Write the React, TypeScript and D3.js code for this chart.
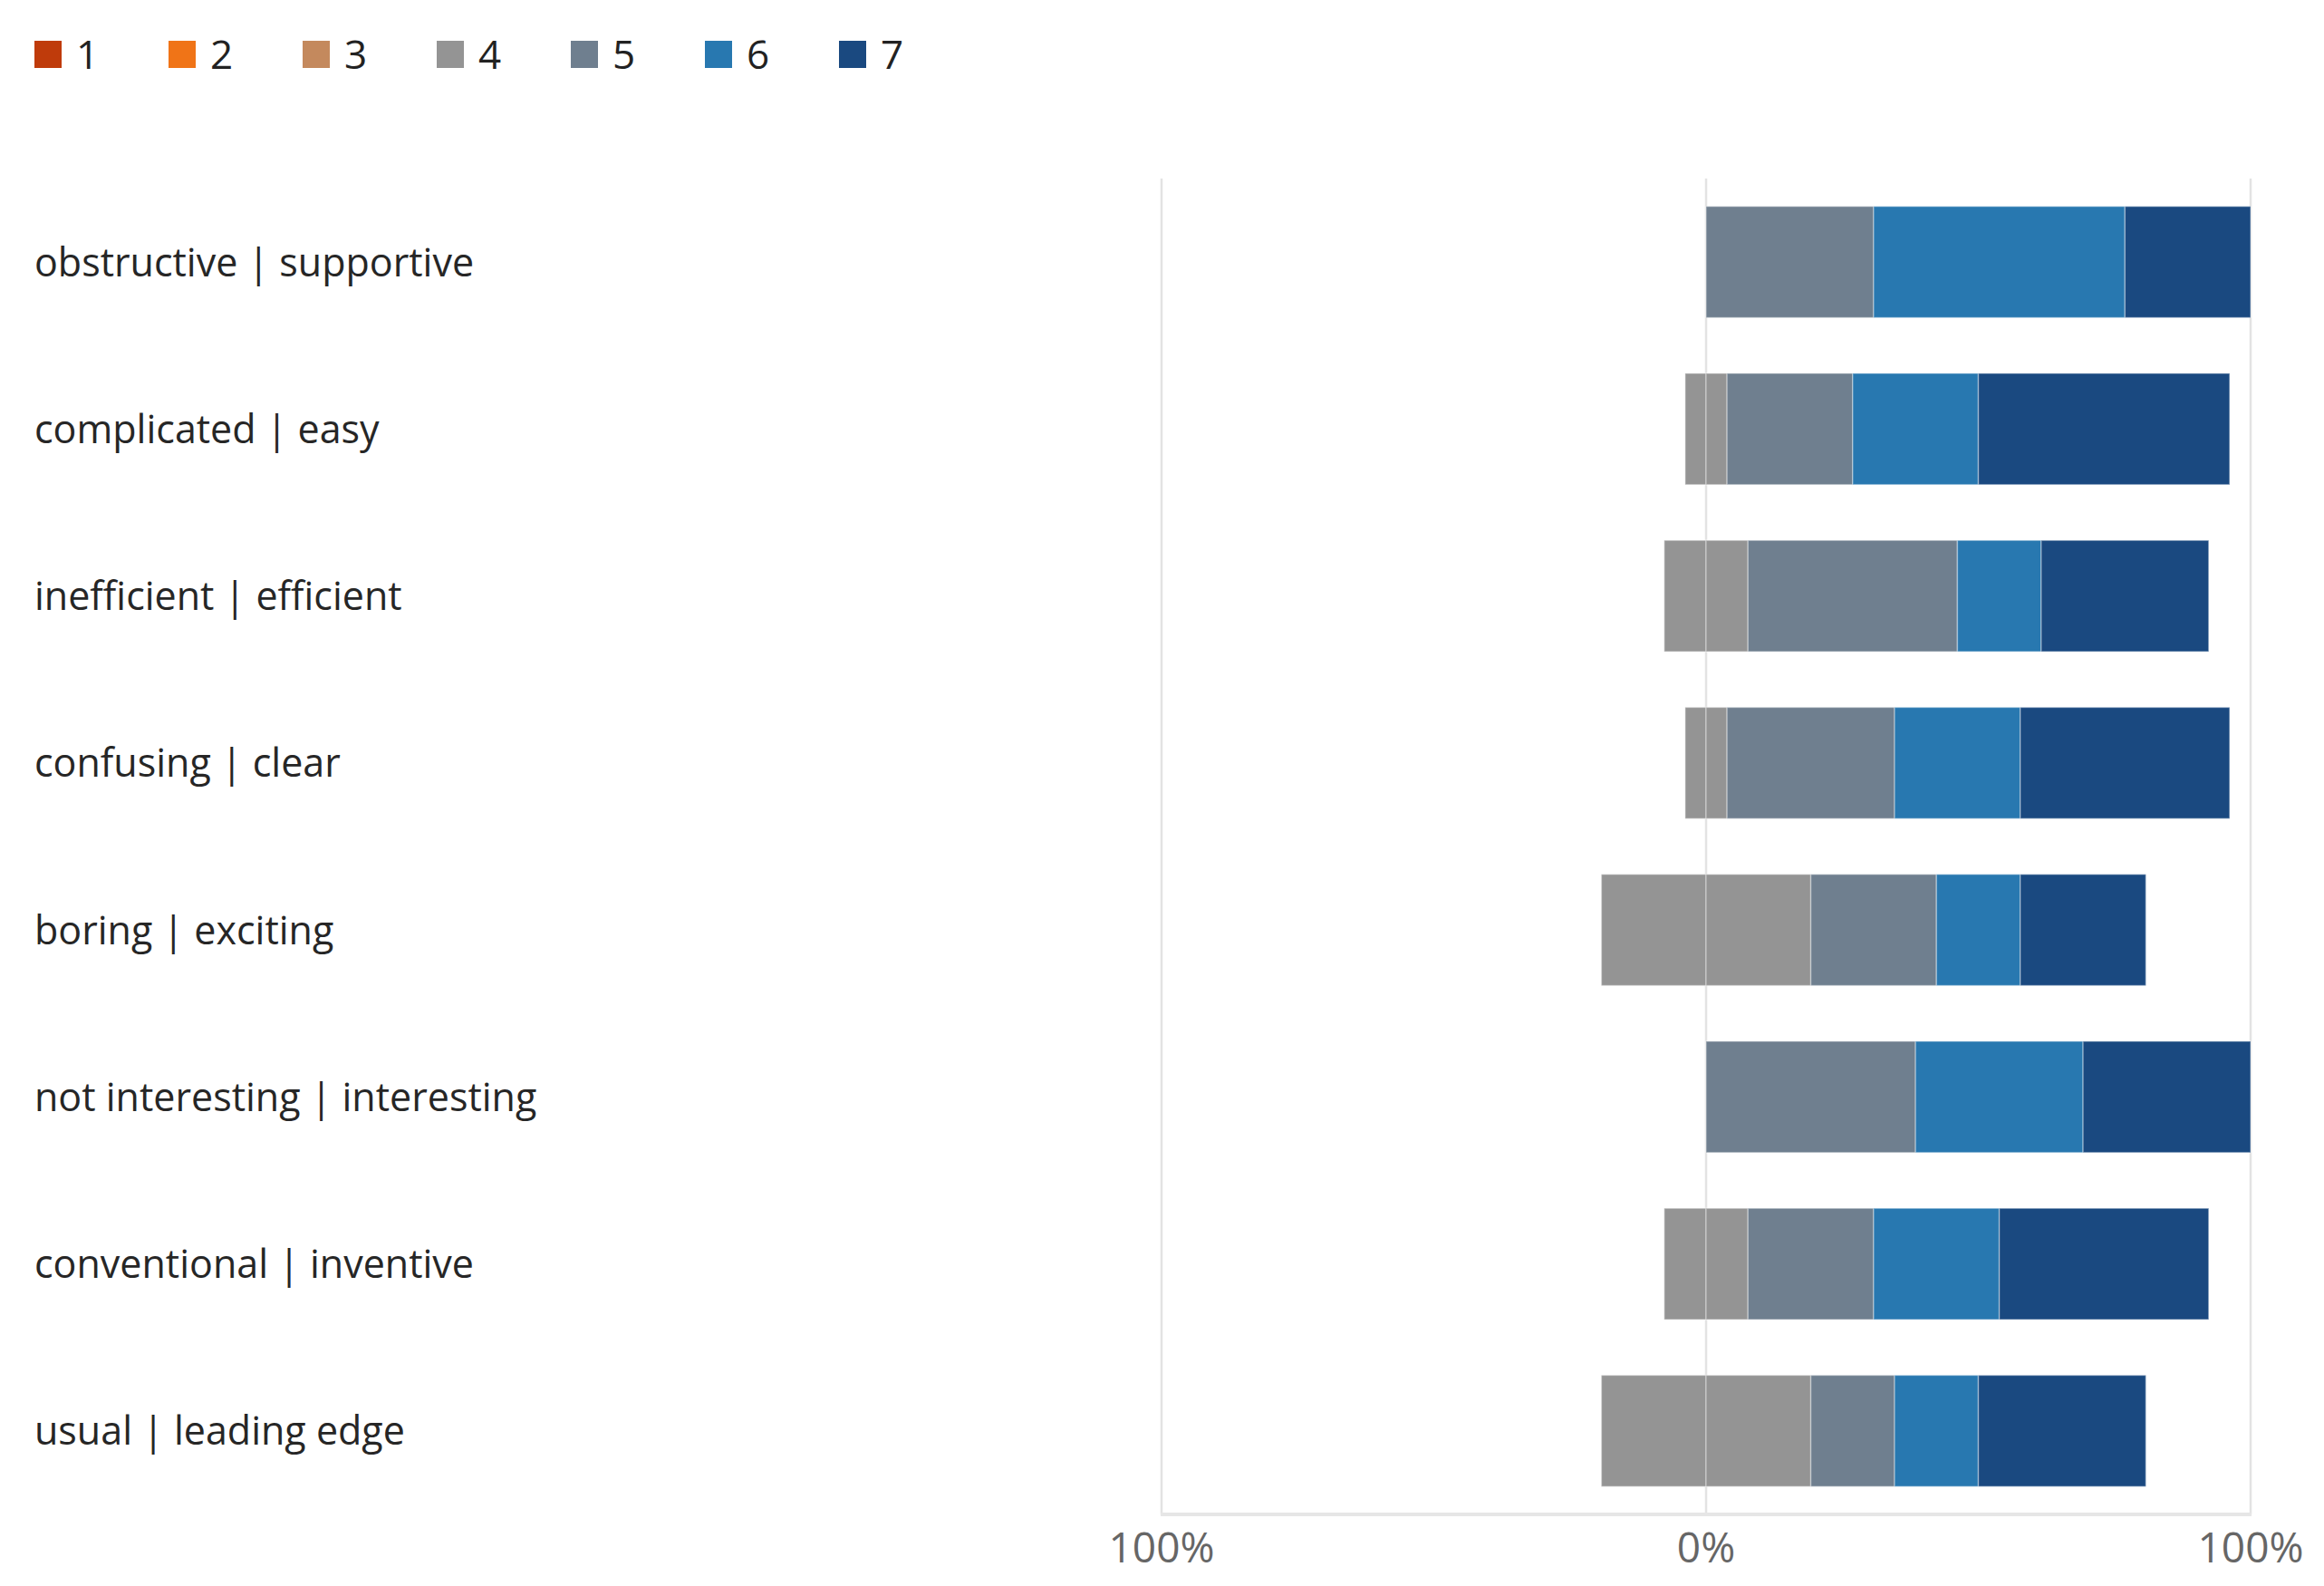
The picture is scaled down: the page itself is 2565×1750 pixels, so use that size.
import { useEffect, useRef } from "react";
import * as d3 from "d3";

const CATEGORIES = [
  "obstructive | supportive",
  "complicated | easy",
  "inefficient | efficient",
  "confusing | clear",
  "boring | exciting",
  "not interesting | interesting",
  "conventional | inventive",
  "usual | leading edge",
];

const LEVELS = ["1", "2", "3", "4", "5", "6", "7"];

// answer counts per scale point 1..7 (13 respondents)
const COUNTS = [
  [0, 0, 0, 0, 4, 6, 3],
  [0, 0, 0, 1, 3, 3, 6],
  [0, 0, 0, 2, 5, 2, 4],
  [0, 0, 0, 1, 4, 3, 5],
  [0, 0, 0, 5, 3, 2, 3],
  [0, 0, 0, 0, 5, 4, 4],
  [0, 0, 0, 2, 3, 3, 5],
  [0, 0, 0, 5, 2, 2, 4],
];

const COLORS = ["#bf3b0b", "#f07417", "#c4895d", "#949494", "#6f7f8f", "#2878b0", "#1a4980"];

const TICKS = [-1, 0, 1];

export default function App() {
  const ref = useRef<HTMLDivElement>(null);

  useEffect(() => {
    if (!ref.current) return;
    const container = ref.current;
    d3.select(container).select("svg").remove();

    const width = 2565;
    const height = 1750;
    const plotTop = 197;
    const plotBottom = 1671;
    const plotLeft = 1282;
    const plotRight = 2484;
    const font = "'Open Sans', 'Noto Sans', sans-serif";

    const x = d3.scaleLinear().domain([-1, 1]).range([plotLeft, plotRight]);
    const y = d3.scaleBand<string>()
      .domain(CATEGORIES)
      .range([plotTop, plotBottom])
      .paddingInner(1 / 3)
      .paddingOuter(1 / 6);

    const svg = d3.create("svg")
      .attr("width", width)
      .attr("height", height)
      .attr("viewBox", [0, 0, width, height])
      .attr("style", `position:absolute;left:0;top:0;background:#fff;font-family:${font};`);

    // legend
    const legend = svg.append("g")
      .selectAll("g")
      .data(LEVELS)
      .join("g")
        .attr("transform", (_, i) => `translate(${38 + i * 148},45)`);
    legend.append("rect")
      .attr("width", 30)
      .attr("height", 30)
      .attr("fill", (_, i) => COLORS[i]);
    legend.append("text")
      .attr("x", 46)
      .attr("y", 15)
      .attr("dy", "0.36em")
      .attr("font-size", 44)
      .attr("fill", "#222")
      .text(d => d);

    // gridlines
    svg.append("g")
      .attr("stroke", "#e3e3e3")
      .attr("stroke-width", 2.5)
      .selectAll("line")
      .data(TICKS)
      .join("line")
        .attr("x1", d => x(d))
        .attr("x2", d => x(d))
        .attr("y1", plotTop)
        .attr("y2", plotBottom);

    // stacked diverging segments, neutral (4) split across 0
    type Seg = { row: string; level: number; x0: number; x1: number };
    const segs: Seg[] = [];
    COUNTS.forEach((counts, r) => {
      const total = d3.sum(counts);
      const p = counts.map(c => c / total);
      let start = -(d3.sum(p.slice(0, 3)) + p[3] / 2);
      p.forEach((v, k) => {
        if (v <= 0) return;
        if (k === 3) {
          segs.push({ row: CATEGORIES[r], level: k, x0: start, x1: start + v / 2 });
          segs.push({ row: CATEGORIES[r], level: k, x0: start + v / 2, x1: start + v });
        } else {
          segs.push({ row: CATEGORIES[r], level: k, x0: start, x1: start + v });
        }
        start += v;
      });
    });

    svg.append("g")
      .selectAll("rect")
      .data(segs)
      .join("rect")
        .attr("x", d => x(d.x0))
        .attr("y", d => y(d.row) ?? 0)
        .attr("width", d => x(d.x1) - x(d.x0))
        .attr("height", y.bandwidth())
        .attr("fill", d => COLORS[d.level])
        .attr("stroke", "#ffffff")
        .attr("stroke-opacity", 0.35)
        .attr("stroke-width", 1.5);

    // bottom axis
    svg.append("line")
      .attr("x1", plotLeft - 1)
      .attr("x2", plotRight + 1)
      .attr("y1", plotBottom)
      .attr("y2", plotBottom)
      .attr("stroke", "#e6e6e6")
      .attr("stroke-width", 4);

    svg.append("g")
      .attr("font-size", 46)
      .attr("fill", "#666")
      .attr("text-anchor", "middle")
      .selectAll("text")
      .data(TICKS)
      .join("text")
        .attr("x", d => x(d))
        .attr("y", 1724)
        .text(d => d3.format(".0%")(Math.abs(d)));

    // category labels
    svg.append("g")
      .attr("font-size", 43)
      .attr("fill", "#262626")
      .selectAll("text")
      .data(CATEGORIES)
      .join("text")
        .attr("x", 38)
        .attr("y", d => (y(d) ?? 0) + y.bandwidth() / 2)
        .attr("dy", "0.36em")
        .text(d => d);

    container.append(svg.node()!);
  }, []);

  return <div ref={ref} />;
}
